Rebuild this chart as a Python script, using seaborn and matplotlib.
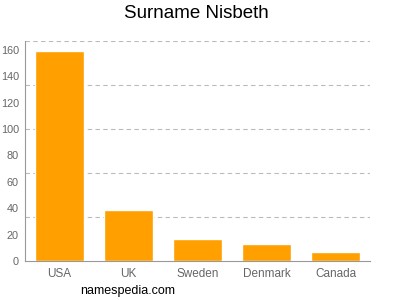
import matplotlib
matplotlib.use("Agg")
import matplotlib.pyplot as plt
import seaborn as sns
import pandas as pd

countries = ["USA", "UK", "Sweden", "Denmark", "Canada"]
counts = [159, 39, 17, 13, 7]
yticks = [0, 20, 40, 60, 80, 100, 120, 140, 160]

sns.set_style("white")
plt.rcParams['font.family'] = ['Liberation Sans', 'DejaVu Sans']

df = pd.DataFrame({"country": countries, "count": counts})

fig = plt.figure(figsize=(4, 3), dpi=100)
ax = fig.add_axes([0.063, 0.129, 0.862, 0.735])
sns.barplot(data=df, x="country", y="count", color="#FFA000", saturation=1,
            width=0.715, ax=ax)

ymax = 166.7
ax.set_ylim(0, ymax)
ax.set_xlim(-0.5, 4.5)
for g in [ymax * i / 5 for i in range(1, 6)]:
    ax.axhline(g, color="#BBBBBB", lw=0.8, ls=(0, (4, 3)), zorder=0)

ax.set_yticks(yticks)
ax.set_xlabel("")
ax.set_ylabel("")
for s in ["top", "right"]:
    ax.spines[s].set_visible(False)
for s in ["left", "bottom"]:
    ax.spines[s].set_color("#999999")
    ax.spines[s].set_linewidth(0.8)
ax.tick_params(axis="both", colors="#999999", length=3, width=0.8,
               labelcolor="#666666", pad=1.5)
ax.tick_params(axis="x", labelsize=8.5, pad=2)
ax.tick_params(axis="y", labelsize=7.8)

fig.text(0.49, 0.955, "Surname Nisbeth", ha="center", va="center",
         fontsize=13.5, color="#000000")
fig.text(0.32, 0.03, "namespedia.com", ha="center", va="center",
         fontsize=9, color="#000000")

fig.savefig("out.png", dpi=100)
